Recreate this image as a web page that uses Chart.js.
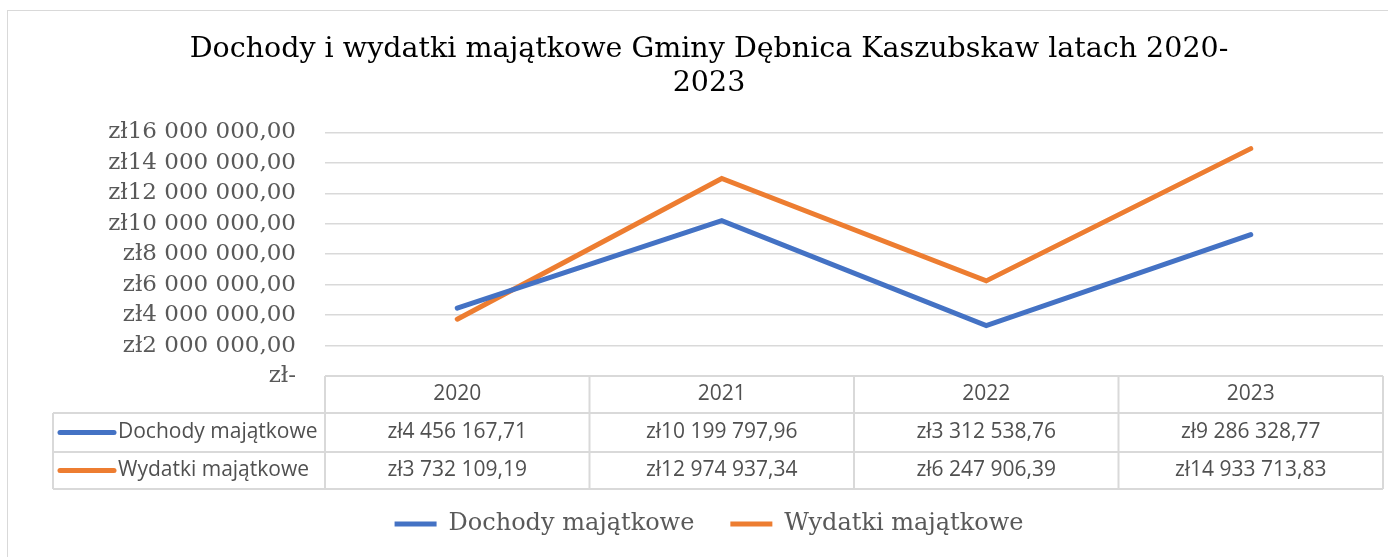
<!DOCTYPE html>
<html>
<head>
<meta charset="utf-8">
<script src="https://cdn.jsdelivr.net/npm/chart.js@4/dist/chart.umd.min.js"></script>
<style>
  html, body { margin: 0; padding: 0; background: #fff; overflow: hidden; }
  #frame { position: absolute; left: 7px; top: 10px; width: 1420px; height: 600px; border: 1px solid #d9d9d9; }
  #wrap { position: absolute; left: 7px; top: 10px; width: 1408px; height: 547px; }
</style>
</head>
<body>
<div id="frame"></div>
<div id="wrap"><canvas id="chart"></canvas></div>
<script>
const years = ['2020', '2021', '2022', '2023'];
const seriesNames = ['Dochody majątkowe', 'Wydatki majątkowe'];
const dochody = [4456167.71, 10199797.96, 3312538.76, 9286328.77];
const wydatki = [3732109.19, 12974937.34, 6247906.39, 14933713.83];
const colors = ['#4472C4', '#ED7D31'];

function zl(v) {
  if (v === 0) return 'zł-';
  const parts = v.toFixed(2).split('.');
  const intPart = parts[0].replace(/\B(?=(\d{3})+(?!\d))/g, ' ');
  return 'zł' + intPart + ',' + parts[1];
}

const serif = "'DejaVu Serif', serif";
const sans = "'Open Sans', sans-serif";

// tabela danych pod wykresem (jak w Excelu)
const dataTable = {
  id: 'dataTable',
  afterDraw(chart) {
    const ctx = chart.ctx;
    const area = chart.chartArea;
    const xs = chart.scales.x;
    const n = years.length;
    const colW = (area.right - area.left) / n;
    const rows = [area.bottom, area.bottom + 37, area.bottom + 76, area.bottom + 113];
    const tableLeft = 46;

    ctx.save();
    ctx.strokeStyle = '#d9d9d9';
    ctx.lineWidth = 2;
    ctx.beginPath();
    // poziome
    ctx.moveTo(area.left, rows[0]); ctx.lineTo(area.right, rows[0]);
    for (let r = 1; r < rows.length; r++) {
      ctx.moveTo(tableLeft, rows[r]); ctx.lineTo(area.right, rows[r]);
    }
    // pionowe
    for (let i = 0; i <= n; i++) {
      const x = area.left + i * colW;
      ctx.moveTo(x, rows[0]); ctx.lineTo(x, rows[3]);
    }
    ctx.moveTo(tableLeft, rows[1]); ctx.lineTo(tableLeft, rows[3]);
    ctx.stroke();

    ctx.fillStyle = '#505050';
    ctx.font = '21px ' + sans;
    ctx.textAlign = 'center';
    ctx.textBaseline = 'middle';
    years.forEach((y, i) => {
      ctx.fillText(y, xs.getPixelForValue(i), (rows[0] + rows[1]) / 2);
    });
    [dochody, wydatki].forEach((vals, s) => {
      const cy = (rows[s + 1] + rows[s + 2]) / 2;
      vals.forEach((v, i) => {
        ctx.fillText(zl(v), xs.getPixelForValue(i), cy);
      });
      ctx.strokeStyle = colors[s];
      ctx.lineWidth = 5;
      ctx.lineCap = 'round';
      ctx.beginPath();
      ctx.moveTo(53, cy); ctx.lineTo(107, cy);
      ctx.stroke();
      ctx.textAlign = 'left';
      ctx.fillText(seriesNames[s], 111, cy);
      ctx.textAlign = 'center';
    });
    ctx.restore();
  }
};

new Chart(document.getElementById('chart'), {
  type: 'line',
  data: {
    labels: years,
    datasets: [
      { label: seriesNames[0], data: dochody, borderColor: colors[0], backgroundColor: colors[0], borderWidth: 5 },
      { label: seriesNames[1], data: wydatki, borderColor: colors[1], backgroundColor: colors[1], borderWidth: 5 }
    ]
  },
  options: {
    responsive: true,
    maintainAspectRatio: false,
    animation: false,
    elements: {
      line: { borderCapStyle: 'round', borderJoinStyle: 'miter', tension: 0 },
      point: { radius: 0 }
    },
    layout: { padding: { left: 28, right: 32, top: 0, bottom: 11 } },
    plugins: {
      title: {
        display: true,
        text: ['Dochody i wydatki majątkowe Gminy Dębnica Kaszubskaw latach 2020-', '2023'],
        color: '#000',
        font: { family: serif, size: 28.5, weight: 'normal', lineHeight: 1.2 },
        padding: { top: 22, bottom: 32 }
      },
      legend: {
        position: 'bottom',
        labels: {
          usePointStyle: true,
          pointStyle: 'line',
          pointStyleWidth: 42,
          color: '#595959',
          font: { family: serif, size: 24 },
          padding: 36
        }
      },
      tooltip: { enabled: false }
    },
    scales: {
      x: {
        offset: true,
        grid: { display: false },
        border: { display: false },
        ticks: { display: false },
        afterFit(scale) { scale.height = 100; }
      },
      y: {
        min: 0,
        max: 16000000,
        grid: { color: '#d9d9d9', lineWidth: 1.5, drawTicks: false },
        border: { display: false },
        afterFit(scale) { scale.width = 290; },
        ticks: {
          stepSize: 2000000,
          autoSkip: false,
          padding: 29,
          color: '#595959',
          font: { family: serif, size: 23 },
          callback: v => zl(v)
        }
      }
    }
  },
  plugins: [dataTable]
});
</script>
</body>
</html>
